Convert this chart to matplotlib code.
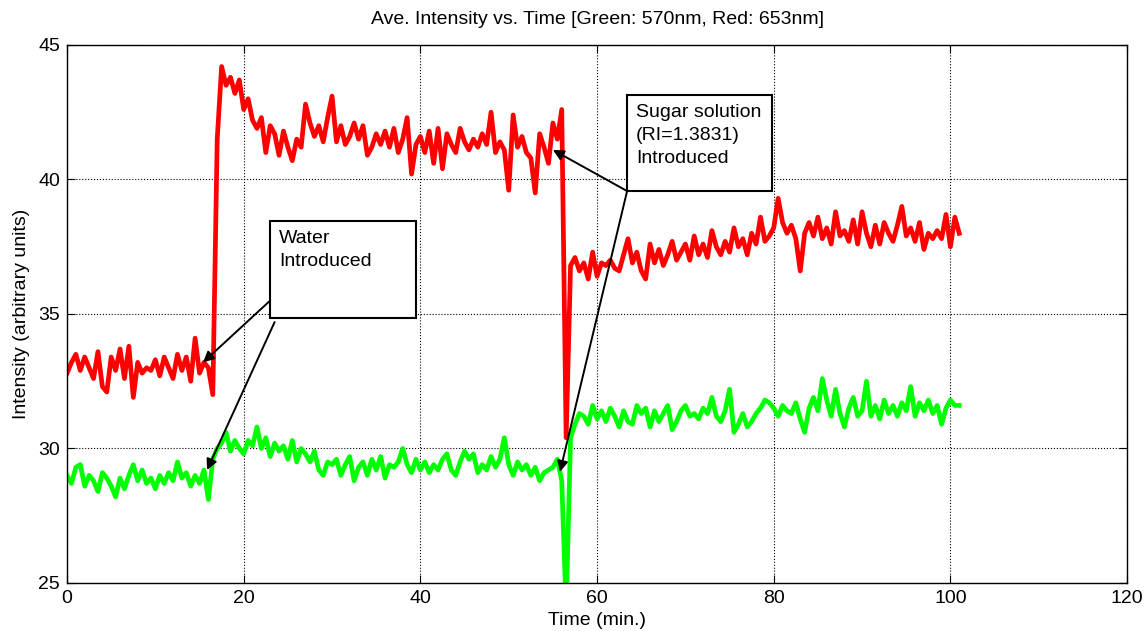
import numpy as np
import matplotlib
matplotlib.use("Agg")
import matplotlib.pyplot as plt
from matplotlib.patches import Rectangle

plt.rcParams['font.family'] = ['Liberation Sans', 'DejaVu Sans']

# sampling grid (minutes), one reading every 30 s
time_min = np.arange(0, 101.01, 0.5)

# average intensity at 653 nm
red_intensity = [
    32.8, 33.2, 33.5, 32.9, 33.4, 33.0, 32.6, 33.6, 32.3, 32.1,
    33.4, 32.9, 33.7, 32.6, 33.8, 31.9, 33.2, 32.8, 33.0, 32.9,
    33.3, 32.7, 33.4, 33.0, 32.6, 33.5, 32.9, 33.4, 32.5, 34.1,
    32.8, 33.2, 33.0, 32.0, 41.5, 44.2, 43.5, 43.8, 43.2, 43.7,
    42.6, 43.0, 42.2, 41.9, 42.3, 41.0, 42.0, 41.7, 40.9, 41.8,
    41.2, 40.7, 41.5, 41.2, 42.8, 42.1, 41.6, 42.0, 41.4, 42.3,
    43.1, 41.4, 42.0, 41.3, 41.6, 42.1, 41.5, 42.0, 40.9, 41.2,
    41.7, 41.3, 41.8, 41.2, 41.9, 41.0, 41.5, 42.3, 40.2, 41.3,
    41.6, 41.0, 41.8, 40.6, 41.9, 40.4, 41.7, 41.3, 41.0, 41.9,
    41.4, 41.1, 41.5, 41.2, 41.7, 41.3, 42.5, 41.0, 41.4, 41.1,
    39.6, 42.4, 41.2, 41.6, 41.0, 40.8, 39.5, 41.7, 41.2, 40.6,
    42.1, 41.5, 42.6, 30.4, 36.8, 37.1, 36.6, 36.9, 36.3, 37.3,
    36.4, 36.9, 36.8, 37.0, 36.7, 36.6, 37.2, 37.8, 36.9, 37.3,
    36.6, 36.3, 37.6, 36.9, 37.4, 36.8, 37.2, 37.7, 37.0, 37.3,
    37.6, 37.0, 37.9, 37.2, 37.6, 37.1, 38.1, 37.5, 37.2, 37.7,
    37.3, 38.2, 37.5, 37.8, 37.2, 38.0, 37.6, 38.6, 37.7, 37.9,
    38.2, 39.3, 38.4, 38.0, 38.3, 37.8, 36.6, 38.0, 38.4, 37.9,
    38.6, 37.8, 38.2, 37.6, 38.8, 37.9, 38.1, 37.7, 38.5, 37.6,
    38.8, 38.0, 37.5, 38.3, 37.6, 38.4, 38.0, 37.7, 38.3, 39.0,
    37.9, 38.2, 37.7, 38.4, 37.4, 38.0, 37.8, 38.1, 37.8, 38.7,
    37.5, 38.6, 38.0,
]

# average intensity at 570 nm
green_intensity = [
    29.0, 28.7, 29.3, 29.4, 28.6, 29.0, 28.8, 28.4, 29.1, 28.9,
    28.6, 28.2, 28.9, 28.5, 29.0, 29.4, 28.8, 29.2, 28.7, 28.9,
    28.5, 29.0, 28.7, 29.1, 28.8, 29.5, 28.9, 29.1, 28.6, 29.0,
    28.7, 29.2, 28.1, 29.6, 30.0, 30.2, 30.6, 29.9, 30.3, 30.0,
    29.8, 30.3, 30.1, 30.8, 30.0, 30.4, 29.7, 30.2, 29.9, 30.1,
    29.6, 30.3, 29.5, 30.0, 29.8, 29.5, 29.9, 29.2, 29.0, 29.5,
    29.4, 29.6, 29.0, 29.4, 29.7, 28.8, 29.3, 29.5, 29.0, 29.6,
    29.2, 29.7, 28.9, 29.4, 29.3, 29.5, 30.0, 29.4, 29.1, 29.6,
    29.2, 29.5, 29.1, 29.4, 29.2, 29.6, 29.8, 29.2, 29.0, 29.5,
    29.9, 29.6, 29.8, 29.1, 29.4, 29.2, 29.7, 29.3, 29.6, 30.4,
    29.4, 29.0, 29.5, 29.2, 29.4, 29.0, 29.3, 28.8, 29.1, 29.2,
    29.3, 29.6, 28.8, 24.0, 30.4, 30.9, 31.3, 31.2, 30.9, 31.6,
    31.1, 31.4, 31.0, 31.5, 31.2, 30.8, 31.4, 31.0, 30.9, 31.6,
    31.3, 31.5, 30.8, 31.4, 31.0, 31.3, 31.6, 30.7, 31.0, 31.4,
    31.6, 31.2, 31.3, 31.1, 31.5, 31.3, 31.9, 31.2, 31.0, 31.4,
    32.2, 30.6, 30.9, 31.3, 30.8, 31.0, 31.3, 31.5, 31.8, 31.7,
    31.5, 31.2, 31.6, 31.4, 31.3, 31.7, 31.1, 30.6, 31.5, 31.9,
    31.4, 32.6, 31.8, 31.2, 32.2, 31.3, 30.8, 31.5, 31.9, 31.2,
    31.4, 32.5, 31.2, 31.6, 31.1, 31.8, 31.3, 31.6, 31.2, 31.7,
    31.4, 32.3, 31.2, 31.7, 31.4, 31.8, 31.3, 31.6, 30.9, 31.5,
    31.8, 31.6, 31.6,
]

x_ticks = [0, 20, 40, 60, 80, 100, 120]
y_ticks = [25, 30, 35, 40, 45]

fig = plt.figure(figsize=(11.46, 6.31), dpi=100)
ax = fig.add_axes([0.0585, 0.0761, 0.925, 0.8526])

ax.plot(time_min, green_intensity, color='#00ff00', lw=3.4)
ax.plot(time_min, red_intensity, color='#ff0000', lw=3.4)

ax.set_xlim(0, 120)
ax.set_ylim(25, 45)
ax.set_xticks(x_ticks)
ax.set_yticks(y_ticks)
ax.tick_params(direction='in', top=True, right=True, length=6, labelsize=14, pad=5)
ax.grid(True, linestyle=':', color='black', linewidth=0.8)
for s in ax.spines.values():
    s.set_linewidth(1.0)

ax.set_title('Ave. Intensity vs. Time [Green: 570nm, Red: 653nm]', fontsize=14, pad=15)
ax.set_xlabel('Time (min.)', fontsize=14, labelpad=4)
ax.set_ylabel('Intensity (arbitrary units)', fontsize=14, labelpad=6)

# annotation boxes
def note_box(x0, y0, x1, y1, text):
    ax.add_patch(Rectangle((x0, y0), x1 - x0, y1 - y0, facecolor='white',
                           edgecolor='black', lw=1.5, zorder=5))
    ax.text(x0 + 1.0, y1 - 0.35, text, fontsize=14, va='top', ha='left',
            linespacing=1.45, zorder=6)

def arrow(start, end):
    ax.annotate('', xy=end, xytext=start, zorder=7,
                arrowprops=dict(arrowstyle='-|>', color='black', lw=1.4,
                                mutation_scale=16, shrinkA=0, shrinkB=0))

note_box(23.0, 34.85, 39.5, 38.46, 'Water\nIntroduced')
arrow((23.0, 35.5), (15.4, 33.2))
arrow((23.5, 34.7), (15.85, 29.2))

note_box(63.4, 39.57, 79.8, 43.14, 'Sugar solution\n(RI=1.3831)\nIntroduced')
arrow((63.4, 39.57), (55.0, 41.1))
arrow((63.4, 39.57), (55.8, 29.13))

fig.savefig('out.png', dpi=100)
